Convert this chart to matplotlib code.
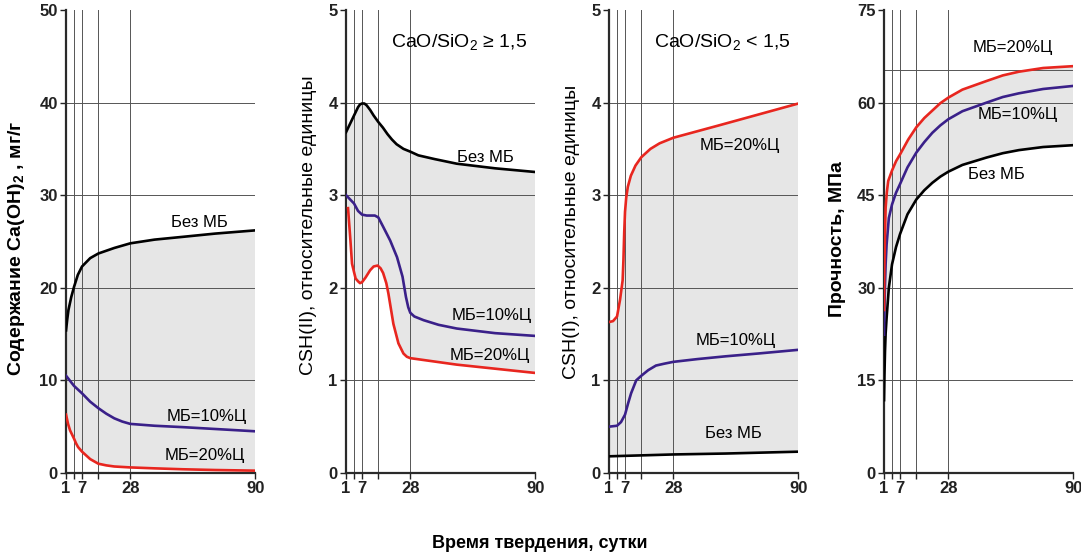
import matplotlib
matplotlib.use("Agg")

import numpy as np
import matplotlib.pyplot as plt

plt.rcParams["font.family"] = ["Liberation Sans", "DejaVu Sans"]
plt.rcParams["mathtext.fontset"] = "custom"
plt.rcParams["mathtext.rm"] = "Liberation Sans"
plt.rcParams["mathtext.bf"] = "Liberation Sans:bold"

# ось времени: сетка по срокам твердения
grid_days = [1, 3, 7, 14, 28, 90]
grid_pos = [0, 8, 16, 32.3, 64.3, 189.5]   # относительное положение линий на оси
tick_labels = ["1", "", "7", "", "28", "90"]

# --- Ca(OH)2, мг/г
ca_none_d = [1, 1.3, 1.6, 2.3, 3, 4.9, 7, 10.5, 14, 21, 28, 40, 54, 70, 90]
ca_none_v = [15.4, 16.6, 17.6, 19.0, 20.1, 21.4, 22.3, 23.2, 23.7, 24.3, 24.8, 25.2, 25.5, 25.85, 26.2]
ca_10_d = [1, 3, 5, 7, 10.5, 14, 17.5, 21, 24.5, 28, 40, 54, 70, 90]
ca_10_v = [10.5, 9.4, 9.0, 8.6, 7.7, 7.0, 6.4, 5.9, 5.55, 5.3, 5.1, 4.95, 4.75, 4.5]
ca_20_d = [1, 1.5, 2, 3, 4, 5, 7, 10.5, 14, 17.5, 21, 28, 40, 54, 70, 90]
ca_20_v = [6.3, 5.3, 4.6, 3.7, 3.2, 2.8, 2.3, 1.5, 1.0, 0.82, 0.7, 0.6, 0.5, 0.4, 0.32, 0.25]

# --- CSH(II), CaO/SiO2 >= 1,5
csh2_none_d = [1, 3, 5, 6, 7, 8, 9, 10.5, 12, 14, 16, 18, 20, 22, 25, 28, 32, 40, 51, 70, 90]
csh2_none_v = [3.68, 3.86, 3.95, 3.98, 3.99, 3.99, 3.97, 3.92, 3.86, 3.79, 3.73, 3.66, 3.60, 3.55, 3.50, 3.47, 3.43, 3.39, 3.34, 3.29, 3.25]
csh2_10_d = [1, 3, 5, 7, 9, 10.5, 12.5, 14, 16.1, 19.2, 22.2, 24.6, 26.1, 27.1, 28, 30, 34.6, 42, 51, 70, 90]
csh2_10_v = [3.0, 2.91, 2.83, 2.79, 2.78, 2.78, 2.78, 2.76, 2.66, 2.51, 2.33, 2.12, 1.90, 1.79, 1.73, 1.69, 1.65, 1.60, 1.56, 1.51, 1.48]
csh2_20_d = [1.5, 2.1, 2.5, 3, 3.8, 5, 6, 7, 8.5, 10.5, 12, 13.7, 15, 16.1, 17.5, 18.4, 20.6, 22.8, 25, 26.5, 28, 51, 90]
csh2_20_v = [2.86, 2.51, 2.26, 2.17, 2.10, 2.07, 2.05, 2.06, 2.11, 2.19, 2.23, 2.24, 2.21, 2.16, 2.05, 1.94, 1.61, 1.40, 1.29, 1.255, 1.24, 1.17, 1.08]

# --- CSH(I), CaO/SiO2 < 1,5
csh1_none_d = [1, 14, 28, 54, 90]
csh1_none_v = [0.18, 0.19, 0.20, 0.21, 0.23]
csh1_10_d = [1, 3, 5, 7, 8.3, 9.6, 11.8, 14, 17, 20.4, 24, 28, 40, 54, 70, 90]
csh1_10_v = [0.50, 0.51, 0.55, 0.63, 0.75, 0.86, 1.0, 1.05, 1.11, 1.16, 1.18, 1.20, 1.23, 1.26, 1.29, 1.33]
csh1_20_d = [1, 2, 3, 4.5, 5.8, 6.2, 6.6, 7, 7.5, 8.2, 9.5, 11.5, 14, 18, 22, 28, 50, 70, 90]
csh1_20_v = [1.63, 1.64, 1.69, 1.87, 2.08, 2.3, 2.6, 2.82, 2.97, 3.09, 3.21, 3.32, 3.41, 3.50, 3.56, 3.62, 3.75, 3.87, 3.99]

# --- Прочность, МПа
str_none_d = [1, 1.1, 1.24, 1.4, 1.64, 2.2, 3, 5, 7, 10.2, 14, 17.5, 21, 24.5, 28, 35, 47, 55, 63, 75, 90]
str_none_v = [11.8, 15.8, 19.7, 22.6, 25.1, 30.0, 33.8, 36.6, 38.7, 41.9, 44.3, 45.8, 47.0, 48.0, 48.8, 49.9, 51.1, 51.8, 52.3, 52.8, 53.1]
str_10_d = [1, 1.1, 1.24, 1.4, 1.64, 2.2, 3, 5, 7, 10.2, 14, 17.5, 21, 24.5, 28, 35, 47, 55, 63, 75, 90]
str_10_v = [22.4, 26.8, 30.5, 33.9, 37.0, 41.3, 43.5, 45.4, 46.8, 49.5, 51.9, 53.6, 55.1, 56.3, 57.3, 58.6, 60.0, 60.9, 61.5, 62.2, 62.7]
str_20_d = [1, 1.08, 1.24, 1.4, 1.7, 2.04, 3, 5, 7, 10.5, 14, 17.5, 21, 24.5, 28, 35, 47, 55, 63, 75, 90]
str_20_v = [26.4, 33.2, 38.7, 43.0, 45.5, 47.3, 49.0, 50.5, 51.6, 54.0, 56.0, 57.5, 58.7, 59.9, 60.8, 62.1, 63.5, 64.4, 65.0, 65.6, 65.9]

BLACK = "#000000"
PURPLE = "#3a2089"
RED = "#e8261f"
FILL = "#e6e6e6"
GRID = "#555555"


def fwd(x):
    return np.interp(x, grid_days, grid_pos)


def inv(p):
    return np.interp(p, grid_pos, grid_days)


def setup(ax, ymax, yticks):
    ax.set_xscale("function", functions=(fwd, inv))
    ax.set_xlim(1, 90)
    ax.set_ylim(0, ymax)
    ax.set_xticks(grid_days)
    ax.set_xticklabels(tick_labels, fontsize=12, fontweight="bold")
    ax.set_yticks(yticks)
    ax.set_yticklabels([str(t) for t in yticks], fontsize=12, fontweight="bold")
    ax.xaxis.set_minor_locator(matplotlib.ticker.NullLocator())
    for t in yticks[1:-1]:
        ax.axhline(t, color=GRID, lw=0.7, zorder=1)
    for d in grid_days[1:]:
        ax.axvline(d, color=GRID, lw=0.7, zorder=1)
    ax.axvline(1, color="#888888", lw=0.7, zorder=1)
    for s in ("top", "right"):
        ax.spines[s].set_visible(False)
    for s in ("left", "bottom"):
        ax.spines[s].set_linewidth(1.6)
        ax.spines[s].set_color("#2a2a2a")
    ax.tick_params(direction="out", length=4, width=1, pad=2, colors="#222222")


def band(ax, top_d, top_v, bot_d, bot_v):
    xs = np.r_[top_d, bot_d[::-1]]
    ys = np.r_[top_v, bot_v[::-1]]
    ax.fill(xs, ys, color=FILL, lw=0, zorder=0)


fig = plt.figure(figsize=(10.81, 5.6), dpi=100)
bottom, height = 0.1554, 0.8268
lefts = [0.0611, 0.3201, 0.5634, 0.8178]
axes = [fig.add_axes([l, bottom, 0.1752, height]) for l in lefts]
lw = 1.9
fs = 12

# панель 1
ax = axes[0]
setup(ax, 50, [0, 10, 20, 30, 40, 50])
band(ax, ca_none_d, ca_none_v, ca_20_d, ca_20_v)
ax.plot(ca_none_d, ca_none_v, color=BLACK, lw=lw, zorder=3)
ax.plot(ca_10_d, ca_10_v, color=PURPLE, lw=lw, zorder=3)
ax.plot(ca_20_d, ca_20_v, color=RED, lw=lw, zorder=3)
ax.text(62, 27.1, "Без МБ", fontsize=fs, ha="center", va="center")
ax.text(66, 6.1, "МБ=10%Ц", fontsize=fs, ha="center", va="center")
ax.text(65, 1.9, "МБ=20%Ц", fontsize=fs, ha="center", va="center")
ax.text(-0.26, 0.486, "Содержание Ca(OH)$_\\mathbf{2}$ , мг/г", transform=ax.transAxes,
        rotation=90, ha="center", va="center", fontsize=14, fontweight="bold")

# панель 2
ax = axes[1]
setup(ax, 5, [0, 1, 2, 3, 4, 5])
band(ax, csh2_none_d, csh2_none_v, csh2_20_d, csh2_20_v)
ax.plot(csh2_none_d, csh2_none_v, color=BLACK, lw=lw, zorder=3)
ax.plot(csh2_10_d, csh2_10_v, color=PURPLE, lw=lw, zorder=3)
ax.plot(csh2_20_d, csh2_20_v, color=RED, lw=lw, zorder=3)
ax.text(65, 3.41, "Без МБ", fontsize=fs, ha="center", va="center")
ax.text(68.5, 1.70, "МБ=10%Ц", fontsize=fs, ha="center", va="center")
ax.text(67.5, 1.27, "МБ=20%Ц", fontsize=fs, ha="center", va="center")
ax.text(0.958, 0.928, "CaO/SiO$_2$ ≥ 1,5", transform=ax.transAxes,
        ha="right", va="center", fontsize=14)
ax.text(-0.2, 0.536, "CSH(II), относительные единицы", transform=ax.transAxes,
        rotation=90, ha="center", va="center", fontsize=14)

# панель 3
ax = axes[2]
setup(ax, 5, [0, 1, 2, 3, 4, 5])
band(ax, csh1_20_d, csh1_20_v, csh1_none_d, csh1_none_v)
ax.plot(csh1_none_d, csh1_none_v, color=BLACK, lw=lw, zorder=3)
ax.plot(csh1_10_d, csh1_10_v, color=PURPLE, lw=lw, zorder=3)
ax.plot(csh1_20_d, csh1_20_v, color=RED, lw=lw, zorder=3)
ax.text(61, 3.54, "МБ=20%Ц", fontsize=fs, ha="center", va="center")
ax.text(59, 1.43, "МБ=10%Ц", fontsize=fs, ha="center", va="center")
ax.text(58, 0.43, "Без МБ", fontsize=fs, ha="center", va="center")
ax.text(0.958, 0.928, "CaO/SiO$_2$ < 1,5", transform=ax.transAxes,
        ha="right", va="center", fontsize=14)
ax.text(-0.196, 0.52, "CSH(I), относительные единицы", transform=ax.transAxes,
        rotation=90, ha="center", va="center", fontsize=14)

# панель 4
ax = axes[3]
setup(ax, 75, [0, 15, 30, 45, 60, 75])
ax.axhline(65.2, color=GRID, lw=0.7, zorder=1)
band(ax, str_20_d, str_20_v, str_none_d, str_none_v)
ax.plot(str_none_d, str_none_v, color=BLACK, lw=lw, zorder=3)
ax.plot(str_10_d, str_10_v, color=PURPLE, lw=lw, zorder=3)
ax.plot(str_20_d, str_20_v, color=RED, lw=lw, zorder=3)
ax.text(60, 69.0, "МБ=20%Ц", fontsize=fs, ha="center", va="center")
ax.text(62.6, 58.1, "МБ=10%Ц", fontsize=fs, ha="center", va="center")
ax.text(52, 48.4, "Без МБ", fontsize=fs, ha="center", va="center")
ax.text(-0.247, 0.506, "Прочность, МПа", transform=ax.transAxes,
        rotation=90, ha="center", va="center", fontsize=14, fontweight="bold")

fig.text(540 / 1081, 1 - 543 / 560, "Время твердения, сутки",
         ha="center", va="center", fontsize=13, fontweight="bold")

fig.savefig("out.png", dpi=100)
plt.close(fig)
